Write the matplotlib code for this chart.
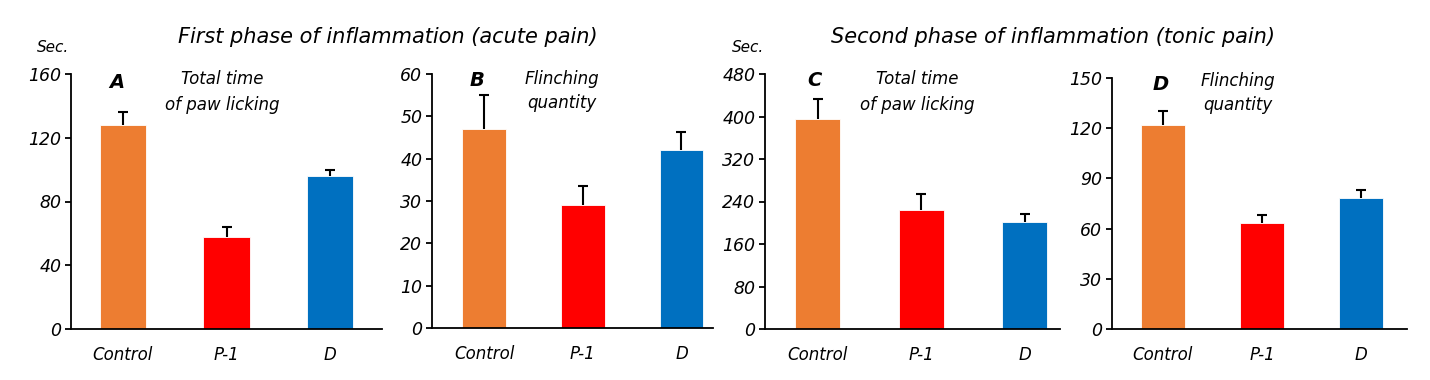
import numpy as np
import matplotlib
matplotlib.use('Agg')
import matplotlib.pyplot as plt

plt.rcParams['font.family'] = 'DejaVu Sans'
plt.rcParams['font.style'] = 'italic'

groups = ['Control', 'P-1', 'D']
colors = ['#ED7D31', '#FF0000', '#0070C0']

# first phase (acute pain)
lick_acute = [128, 58, 96]
lick_acute_err = [8, 6, 3.5]
flinch_acute = [47, 29, 42]
flinch_acute_err = [8, 4.6, 4.3]

# second phase (tonic pain)
lick_tonic = [395, 224, 201]
lick_tonic_err = [38, 30, 16]
flinch_tonic = [122, 63.5, 78]
flinch_tonic_err = [8, 4.6, 5]

W, H = 1430, 380
fig = plt.figure(figsize=(W / 100, H / 100), dpi=100)


def px(x0, y0, x1, y1):
    # pixel box -> figure fraction rect
    return [x0 / W, 1 - y1 / H, (x1 - x0) / W, (y1 - y0) / H]


panels = [
    # rect, values, errors, ymax, yticks, xlim, bar width
    (px(71, 74, 382, 329), lick_acute, lick_acute_err, 160, np.arange(0, 161, 40), (-0.5, 2.5), 0.45),
    (px(432, 74, 713, 328), flinch_acute, flinch_acute_err, 60, np.arange(0, 61, 10), (-0.53, 2.32), 0.445),
    (px(765, 74, 1060, 329), lick_tonic, lick_tonic_err, 480, np.arange(0, 481, 80), (-0.51, 2.34), 0.435),
    (px(1112, 78, 1407, 329), flinch_tonic, flinch_tonic_err, 150, np.arange(0, 151, 30), (-0.51, 2.46), 0.44),
]

x = np.arange(len(groups))
for rect, vals, errs, ymax, yt, xl, bw in panels:
    ax = fig.add_axes(rect)
    ax.bar(x, vals, width=bw, color=colors, edgecolor='white', linewidth=0.6, zorder=2)
    tops = np.array(vals) + np.array(errs)
    # upper half error bars only, cap on top
    ax.vlines(x, vals, tops, color='black', linewidth=1.5, zorder=1)
    ax.plot(x, tops, linestyle='none', marker='_', markersize=7,
            markeredgewidth=1.5, color='black', zorder=1)
    ax.set_ylim(0, ymax)
    ax.set_xlim(*xl)
    ax.set_yticks(yt)
    ax.set_xticks(x)
    ax.set_xticklabels(groups)
    ax.spines['top'].set_visible(False)
    ax.spines['right'].set_visible(False)
    for s in ['left', 'bottom']:
        ax.spines[s].set_linewidth(1.3)
    ax.tick_params(axis='y', direction='out', length=4, width=1.3, pad=3, labelsize=12.5)
    ax.tick_params(axis='x', length=0, pad=12, labelsize=12)

# titles
fig.text(388 / W, 1 - 37 / H, 'First phase of inflammation (acute pain)',
         ha='center', va='center', fontsize=15)
fig.text(1053 / W, 1 - 37 / H, 'Second phase of inflammation (tonic pain)',
         ha='center', va='center', fontsize=15)

# units
fig.text(53 / W, 1 - 48 / H, 'Sec.', ha='center', va='center', fontsize=11)
fig.text(748 / W, 1 - 48 / H, 'Sec.', ha='center', va='center', fontsize=11)

# panel letters
for lx, ly, lt in [(117, 82, 'A'), (477, 80, 'B'), (814, 80, 'C'), (1161, 84, 'D')]:
    fig.text(lx / W, 1 - ly / H, lt, ha='center', va='center', fontsize=14, fontweight='bold')

# panel notes
for nx, ny, nt in [(222, 92, 'Total time\nof paw licking'), (562, 91, 'Flinching\nquantity'),
                   (917, 92, 'Total time\nof paw licking'), (1238, 93, 'Flinching\nquantity')]:
    fig.text(nx / W, 1 - ny / H, nt, ha='center', va='center', fontsize=12, linespacing=1.5)

fig.savefig('out.png', dpi=100)
